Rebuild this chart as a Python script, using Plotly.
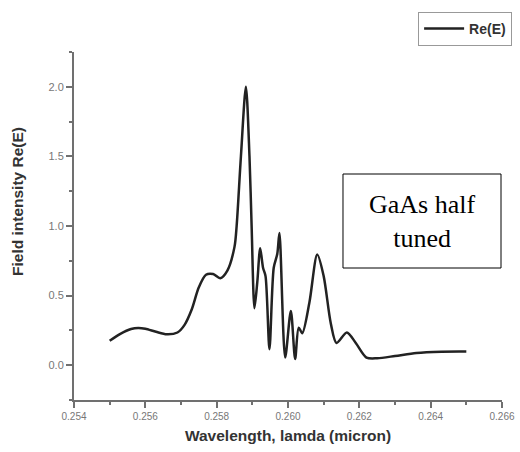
import plotly.graph_objects as go

wavelength = [0.2550, 0.2553, 0.2556, 0.2558, 0.2560, 0.2563, 0.2566, 0.2569, 0.2571,
              0.2573, 0.2575, 0.2577, 0.2579, 0.2581, 0.2583, 0.2585, 0.25856, 0.25868,
              0.25882, 0.25892, 0.25898, 0.25906, 0.25914, 0.25922, 0.2593, 0.25937,
              0.25948, 0.2596, 0.2597, 0.25976, 0.25992, 0.26008, 0.2602, 0.2603,
              0.2604, 0.2606, 0.26082, 0.2610, 0.2612, 0.26136, 0.26165, 0.2619,
              0.2622, 0.2625, 0.2630, 0.2636, 0.2643, 0.2650]
re_e = [0.175, 0.225, 0.260, 0.268, 0.262, 0.240, 0.222, 0.235, 0.290,
        0.400, 0.560, 0.650, 0.655, 0.625, 0.680, 0.850, 1.000, 1.500,
        2.000, 1.500, 1.000, 0.410, 0.600, 0.840, 0.700, 0.640,
        0.115, 0.700, 0.800, 0.950, 0.055, 0.390, 0.045, 0.270,
        0.230, 0.450, 0.795, 0.640, 0.300, 0.160, 0.235, 0.160,
        0.055, 0.050, 0.066, 0.088, 0.097, 0.098]

x_ticks = [0.254, 0.256, 0.258, 0.260, 0.262, 0.264, 0.266]
y_ticks = [0.0, 0.5, 1.0, 1.5, 2.0]

SANS = "Arial, Liberation Sans, sans-serif"

fig = go.Figure()
fig.add_trace(go.Scatter(
    x=wavelength, y=re_e, mode="lines", name="<b>Re(E)</b>",
    line=dict(color="#222222", width=2.5, shape="spline", smoothing=0.8),
))

axis_common = dict(
    showline=True, linecolor="#707070", linewidth=2, mirror=False,
    ticks="outside", ticklen=6, tickwidth=1.5, tickcolor="#707070",
    showgrid=False, zeroline=False, automargin=False,
)

fig.update_layout(
    width=520, height=452,
    margin=dict(l=74, r=18, t=52, b=52, autoexpand=False),
    paper_bgcolor="white", plot_bgcolor="white",
    showlegend=True,
    legend=dict(x=0.804, y=1.115, xanchor="left", yanchor="top",
                bordercolor="#999999", borderwidth=1, bgcolor="white",
                font=dict(family=SANS, size=14, color="#333333"),
                itemwidth=40, tracegroupgap=0),
    xaxis=dict(range=[0.254, 0.266], tickvals=x_ticks,
               ticktext=[f"{v:.3f}" for v in x_ticks],
               tickfont=dict(family=SANS, size=10, color="#777777"),
               minor=dict(dtick=0.001, ticks="outside", ticklen=3, tickcolor="#707070"),
               title=dict(text="<b>Wavelength, lamda (micron)</b>",
                          font=dict(family=SANS, size=15.5, color="#333333"),
                          standoff=9),
               **axis_common),
    yaxis=dict(range=[-0.25, 2.25], tickvals=y_ticks,
               ticktext=[f"{v:.1f}" for v in y_ticks],
               tickfont=dict(family=SANS, size=11, color="#777777"),
               minor=dict(dtick=0.25, ticks="outside", ticklen=3, tickcolor="#707070"),
               **axis_common),
)

# y-axis title (offset upward as in the original)
fig.add_annotation(xref="paper", yref="paper", x=-0.1308, y=0.569,
                   text="<b>Field intensity Re(E)</b>", textangle=-90, showarrow=False,
                   font=dict(family=SANS, size=15.5, color="#333333"),
                   xanchor="center", yanchor="middle")

fig.add_shape(type="rect", xref="paper", yref="paper",
              x0=0.6285, x1=0.9977, y0=0.3793, y1=0.6494,
              line=dict(color="black", width=1), fillcolor="white", layer="above")
fig.add_annotation(xref="paper", yref="paper", x=0.813, y=0.514,
                   text="GaAs half<br>tuned", showarrow=False,
                   font=dict(family="Liberation Serif, Times New Roman, serif", size=26, color="black"),
                   xanchor="center", yanchor="middle")

fig.write_html("out.html")
